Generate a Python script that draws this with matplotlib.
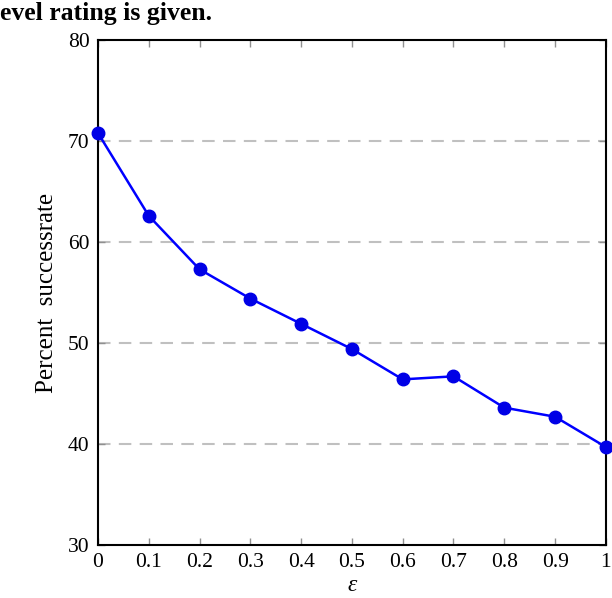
import matplotlib
matplotlib.use('Agg')
import matplotlib.pyplot as plt

eps = [0, 0.1, 0.2, 0.3, 0.4, 0.5, 0.6, 0.7, 0.8, 0.9, 1.0]
success = [70.8, 62.6, 57.3, 54.4, 51.9, 49.4, 46.4, 46.7, 43.6, 42.7, 39.7]
xticks = [0, 0.1, 0.2, 0.3, 0.4, 0.5, 0.6, 0.7, 0.8, 0.9, 1]
xticklabels = ['0', '0.1', '0.2', '0.3', '0.4', '0.5', '0.6', '0.7', '0.8', '0.9', '1']
yticks = [30, 40, 50, 60, 70, 80]

plt.rcParams['font.family'] = ['Liberation Serif', 'DejaVu Serif']

fig = plt.figure(figsize=(6.12, 5.98), dpi=100)
ax = fig.add_axes([0.160, 0.0886, 0.830, 0.8445])

for y in [40, 50, 60, 70]:
    ax.axhline(y, color='#c0c0c0', lw=1.5, dashes=(6, 4), zorder=1)

ax.plot(eps, success, color='blue', lw=1.8, marker='o', markersize=9,
        markerfacecolor='#0000e6', markeredgecolor='#0000e6', zorder=3, clip_on=False)

ax.set_xlim(0, 1)
ax.set_ylim(30, 80)
ax.set_xticks(xticks)
ax.set_xticklabels(xticklabels)
ax.set_yticks(yticks)
ax.tick_params(direction='in', length=5, width=1, color='#909090', labelsize=15.5,
               top=True, right=True, pad=6)
for s in ax.spines.values():
    s.set_linewidth(1.5)

ax.set_xlabel('ε', fontsize=17, fontstyle='italic', labelpad=2)
ax.set_ylabel('Percent  successrate', fontsize=18, labelpad=7)

fig.text(0.0, 0.997, 'evel rating is given.', fontsize=18.5, fontweight='bold',
         ha='left', va='top')

fig.savefig('out.png', dpi=100)
